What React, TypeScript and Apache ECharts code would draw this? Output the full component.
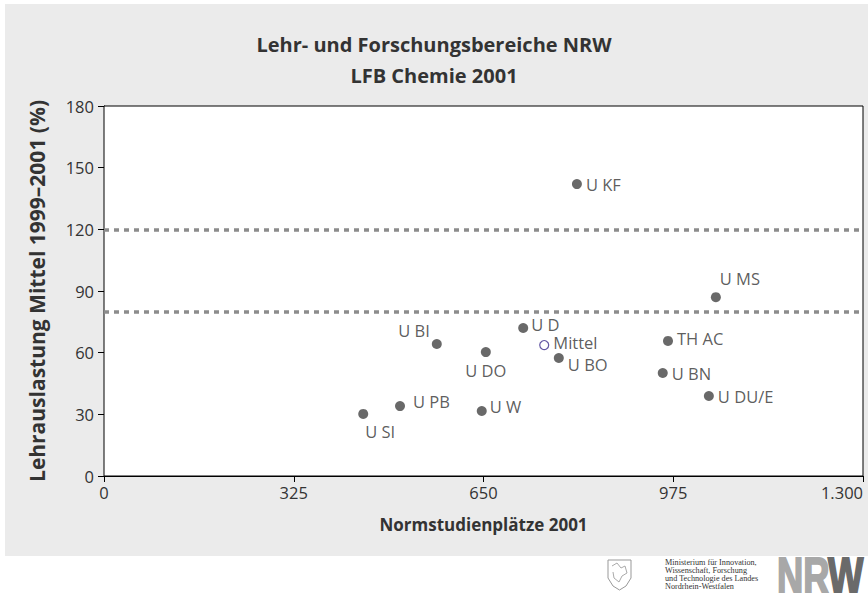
import React, { useEffect, useRef } from "react";
import * as echarts from "echarts";

const names = ["U KF", "U MS", "U BI", "U D", "U DO", "U BO", "TH AC", "U BN", "U DU/E", "U PB", "U W", "U SI"];
const xValues = [810, 1048, 570, 718, 654, 779, 966, 957, 1036, 507, 647, 444];
const yValues = [142, 87, 64.2, 72, 60.3, 57.4, 65.7, 50.1, 38.9, 34, 31.6, 30.2];
const meanPoint = { name: "Mittel", x: 754, y: 63.7 };
const refLines = [80, 120];
const yTicks = { min: 0, max: 180, interval: 30 };
const xTicks = { min: 0, max: 1300, interval: 325 };
const titleLines = ["Lehr- und Forschungsbereiche NRW", "LFB Chemie 2001"];
const xName = "Normstudienplätze 2001";
const yName = "Lehrauslastung Mittel 1999–2001 (%)";
const ministryLines = ["Ministerium für Innovation,", "Wissenschaft, Forschung", "und Technologie des Landes", "Nordrhein-Westfalen"];

const FONT = "'Open Sans', 'Noto Sans', sans-serif";
const TXT = "#333333";

const labelCfg: Record<string, any> = {
  "U KF": { position: "right", distance: 4 },
  "U MS": { position: "top", distance: 5, offset: [24, 0] },
  "U BI": { position: "left", distance: 2, offset: [0, -14] },
  "U D": { position: "right", distance: 3, offset: [0, -4] },
  "U DO": { position: "bottom", distance: 5 },
  "U BO": { position: "right", distance: 4, offset: [0, 6] },
  "TH AC": { position: "right", distance: 4, offset: [0, -2] },
  "U BN": { position: "right", distance: 4 },
  "U DU/E": { position: "right", distance: 4 },
  "U PB": { position: "right", distance: 8, offset: [0, -5] },
  "U W": { position: "right", distance: 3, offset: [0, -5] },
  "U SI": { position: "bottom", distance: 4, offset: [17, 0] },
};

export default function App() {
  const ref = useRef<HTMLDivElement>(null);
  useEffect(() => {
    document.body.style.margin = "0";
    const chart = echarts.init(ref.current!, null, { renderer: "svg" });
    const data = names.map((n, i) => ({
      name: n,
      value: [xValues[i], yValues[i]],
      label: { show: true, ...labelCfg[n] },
    }));
    chart.setOption({
      animation: false,
      backgroundColor: "#ffffff",
      textStyle: { fontFamily: FONT },
      title: {
        text: titleLines.join("\n"),
        left: "center",
        top: 24,
        textStyle: { fontFamily: FONT, fontSize: 20, fontWeight: "bold", color: TXT, lineHeight: 31 },
      },
      grid: {
        left: 104,
        right: 5,
        top: 106,
        bottom: 117,
        outerBoundsMode: "none",
        containLabel: false,
        show: true,
        backgroundColor: "#ffffff",
        borderColor: "#000000",
        borderWidth: 1,
        z: 1,
      },
      xAxis: {
        type: "value",
        ...xTicks,
        name: xName,
        nameLocation: "middle",
        nameGap: 40,
        nameTextStyle: { fontFamily: FONT, fontSize: 17, fontWeight: "bold", color: TXT },
        axisLine: { show: true, lineStyle: { color: "#000", width: 1 } },
        axisTick: { show: true, length: 6, lineStyle: { color: "#000" } },
        axisLabel: {
          fontFamily: FONT,
          fontSize: 16.5,
          color: TXT,
          margin: 8,
          alignMaxLabel: "right",
          formatter: (v: number) => (v >= 1000 ? v.toString().replace(/(\d)(?=(\d{3})+$)/, "$1.") : String(v)),
        },
        splitLine: { show: false },
      },
      yAxis: {
        type: "value",
        ...yTicks,
        name: yName,
        nameLocation: "middle",
        nameGap: 57,
        nameTextStyle: { fontFamily: FONT, fontSize: 21, fontWeight: "bold", color: TXT },
        axisLine: { show: true, lineStyle: { color: "#000", width: 1 } },
        axisTick: { show: true, length: 6, lineStyle: { color: "#000" } },
        axisLabel: { fontFamily: FONT, fontSize: 16.5, color: TXT, margin: 10 },
        splitLine: { show: false },
      },
      graphic: [
        { type: "rect", z: -10, shape: { x: 5, y: 4, width: 863, height: 552 }, style: { fill: "#ebebeb" }, silent: true },
        {
          type: "polygon",
          z: 10,
          shape: { points: [[608, 560], [631, 560], [631, 578], [626, 586], [619.5, 590], [613, 586], [608, 578]] },
          style: { fill: "#ffffff", stroke: "#999999", lineWidth: 1 },
        },
        {
          type: "polyline",
          z: 10,
          shape: { points: [[612, 566], [617, 563], [621, 568], [625, 566], [627, 573], [622, 576], [619, 582], [614, 578], [613, 572]] },
          style: { fill: "none", stroke: "#aaaaaa", lineWidth: 1 },
        },
        {
          type: "text",
          z: 10,
          x: 665,
          y: 558,
          style: {
            text: ministryLines.join("\n"),
            fontFamily: "'Liberation Serif', 'DejaVu Serif', serif",
            fontSize: 8.2,
            lineHeight: 8.2,
            fill: "#333333",
          },
        },
        {
          type: "text",
          z: 10,
          x: 777,
          y: 550,
          scaleX: 0.7,
          style: {
            text: "NR",
            fontFamily: "'Liberation Sans', Arial, sans-serif",
            fontSize: 52,
            fontWeight: "bold",
            fill: "#a8a8a8",
            stroke: "#a8a8a8",
            lineWidth: 2,
          },
        },
        {
          type: "text",
          z: 10,
          x: 828,
          y: 550,
          scaleX: 0.72,
          style: {
            text: "W",
            fontFamily: "'Liberation Sans', Arial, sans-serif",
            fontSize: 52,
            fontWeight: "bold",
            fill: "#6a6a6a",
            stroke: "#6a6a6a",
            lineWidth: 2,
          },
        },
      ],
      series: [
        {
          type: "scatter",
          symbol: "circle",
          symbolSize: 10,
          itemStyle: { color: "#444444" },
          label: { show: true, formatter: "{b}", fontFamily: FONT, fontSize: 16.5, lineHeight: 17, color: TXT },
          data,
          markLine: {
            silent: true,
            symbol: "none",
            label: { show: false },
            lineStyle: { color: "#8c8c8c", width: 3.5, type: [5, 5] },
            data: refLines.map((v) => ({ yAxis: v })),
            z: 2,
          },
          z: 5,
        },
        {
          type: "scatter",
          symbol: "circle",
          symbolSize: 9,
          itemStyle: { color: "#ffffff", borderColor: "#3b2c8c", borderWidth: 1.2 },
          label: {
            show: true,
            position: "right",
            distance: 4,
            offset: [0, -3],
            formatter: "{b}",
            fontFamily: FONT,
            fontSize: 16.5,
            lineHeight: 17,
            color: TXT,
          },
          data: [{ name: meanPoint.name, value: [meanPoint.x, meanPoint.y] }],
          z: 5,
        },
      ],
    });
    return () => chart.dispose();
  }, []);
  return <div ref={ref} style={{ width: 868, height: 593 }} />;
}
